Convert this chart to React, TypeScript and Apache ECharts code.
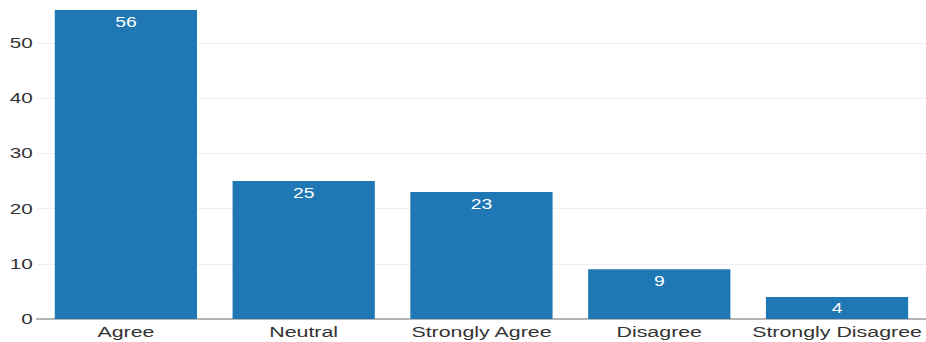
import React, { useEffect, useRef } from "react";
import * as echarts from "echarts";

const categories = ["Agree", "Neutral", "Strongly Agree", "Disagree", "Strongly Disagree"];
const counts = [56, 25, 23, 9, 4];

const SCALE_X = 1.38;
const FULL_W = 926;
const FULL_H = 342;

export default function App() {
  const ref = useRef<HTMLDivElement>(null);
  useEffect(() => {
    if (!ref.current) return;
    const chart = echarts.init(ref.current, undefined, { renderer: "svg" });
    const font = "'Liberation Sans', Arial, sans-serif";
    chart.setOption({
      animation: false,
      grid: { left: 37 / SCALE_X, right: -2 / SCALE_X, top: 10, bottom: 23, containLabel: false },
      xAxis: {
        type: "category",
        data: categories,
        axisLine: { show: true, lineStyle: { color: "#b5b5b5", width: 2 } },
        axisTick: { show: false },
        axisLabel: { color: "#333", fontSize: 15.5, fontFamily: font, margin: 5, interval: 0 },
      },
      yAxis: {
        type: "value",
        min: 0,
        max: 56,
        interval: 10,
        axisLine: { show: false },
        axisTick: { show: false },
        axisLabel: { color: "#333", fontSize: 15, fontFamily: font, margin: 3, showMaxLabel: false },
        splitLine: { show: true, showMaxLine: false, lineStyle: { color: "#eeeeee", width: 1 } },
      },
      series: [
        {
          type: "bar",
          data: counts,
          barCategoryGap: "20%",
          itemStyle: { color: "#1f77b4" },
          label: {
            show: true,
            position: "insideTop",
            distance: 5,
            color: "#ffffff",
            fontSize: 14,
            fontFamily: font,
          },
        },
      ],
    });
    return () => chart.dispose();
  }, []);
  return (
    <div style={{ position: "absolute", left: 0, top: 0, width: FULL_W, height: FULL_H, overflow: "hidden" }}>
      <div
        ref={ref}
        style={{
          width: FULL_W / SCALE_X,
          height: FULL_H,
          transform: `scaleX(${SCALE_X})`,
          transformOrigin: "0 0",
        }}
      />
    </div>
  );
}
